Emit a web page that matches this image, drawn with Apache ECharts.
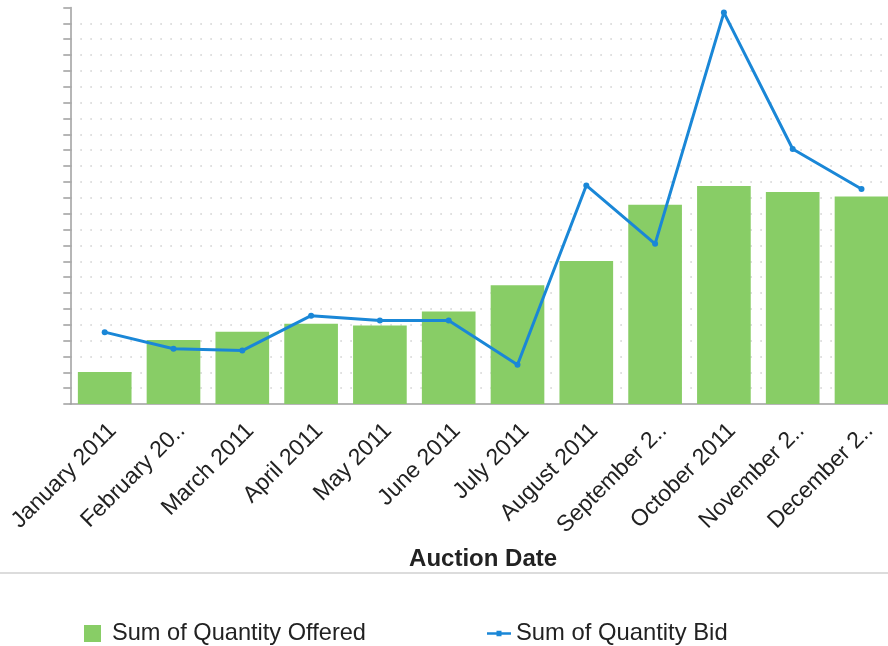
<!DOCTYPE html>
<html>
<head>
<meta charset="utf-8">
<script src="https://cdn.jsdelivr.net/npm/echarts@6/dist/echarts.min.js"></script>
<style>
html,body{margin:0;padding:0;background:#fff;}
#chart{width:888px;height:646px;}
</style>
</head>
<body>
<div id="chart"></div>
<script>
const categories = ['January 2011','February 2011','March 2011','April 2011','May 2011','June 2011','July 2011','August 2011','September 2011','October 2011','November 2011','December 2011'];
const quantityOffered = [2.02, 4.03, 4.55, 5.06, 4.95, 5.83, 7.48, 9.02, 12.56, 13.75, 13.36, 13.08];
const quantityBid = [4.53, 3.48, 3.37, 5.57, 5.27, 5.27, 2.48, 13.78, 10.1, 24.68, 16.08, 13.56];
const yTicks = { min: 0, max: 25, interval: 1 };

const FONT = "'Liberation Sans', Arial, sans-serif";
const chart = echarts.init(document.getElementById('chart'), null, {renderer: 'canvas'});
chart.setOption({
  animation: false,
  backgroundColor: '#fff',
  grid: { left: 70.3, top: 7.5, width: 825.6, height: 396.5, containLabel: false, outerBoundsMode: 'none' },
  legend: [
    {
      data: [{name: 'Sum of Quantity Offered', icon: 'rect'}],
      left: 84, top: 621.5, padding: 0, itemWidth: 17, itemHeight: 17,
      textStyle: { fontFamily: FONT, fontSize: 23.6, color: '#222', padding: [0,0,0,6] }
    },
    {
      data: [{name: 'Sum of Quantity Bid', icon: 'path://M0,2.2H9.5V0.8H14.5V2.2H24V4.8H14.5V6.2H9.5V4.8H0Z'}],
      left: 487, top: 621.5, padding: 0, itemWidth: 24, itemHeight: 17,
      itemStyle: { color: '#1a87d7' },
      textStyle: { fontFamily: FONT, fontSize: 23.8, color: '#222' }
    }
  ],
  xAxis: {
    type: 'category',
    data: categories,
    name: 'Auction Date',
    nameLocation: 'middle',
    nameGap: 143,
    nameTextStyle: { fontFamily: FONT, fontSize: 24, fontWeight: 'bold', color: '#222' },
    axisLine: { lineStyle: { color: '#9e9e9e', width: 1.5 } },
    axisTick: { alignWithLabel: true, length: 7, lineStyle: { color: '#9e9e9e', width: 1.5 } },
    axisLabel: {
      rotate: 45, interval: 0, margin: 15, verticalAlign: 'top',
      fontFamily: FONT, fontSize: 23, color: '#222',
      width: 148, overflow: 'truncate', ellipsis: '..'
    }
  },
  yAxis: {
    type: 'value',
    min: yTicks.min, max: yTicks.max, interval: yTicks.interval,
    axisLine: { show: true, lineStyle: { color: '#9e9e9e', width: 1.5 } },
    axisTick: { show: true, length: 7, lineStyle: { color: '#9e9e9e', width: 1.5 } },
    axisLabel: { show: false },
    splitLine: { show: true, showMaxLine: false, showMinLine: false,
      lineStyle: { color: '#d2d2d2', width: 1.6, type: [1.6, 8.4], dashOffset: 0 } }
  },
  series: [
    {
      name: 'Sum of Quantity Offered',
      type: 'bar',
      data: quantityOffered,
      barCategoryGap: '22%',
      itemStyle: { color: '#88cd66' }
    },
    {
      name: 'Sum of Quantity Bid',
      type: 'line',
      data: quantityBid,
      symbol: 'circle',
      symbolSize: 6,
      lineStyle: { color: '#1a87d7', width: 3 },
      itemStyle: { color: '#1a87d7' }
    }
  ],
  graphic: [
    { type: 'line', shape: { x1: 0, y1: 573, x2: 888, y2: 573 }, style: { stroke: '#dcdcdc', lineWidth: 2 } }
  ]
});
</script>
</body>
</html>
